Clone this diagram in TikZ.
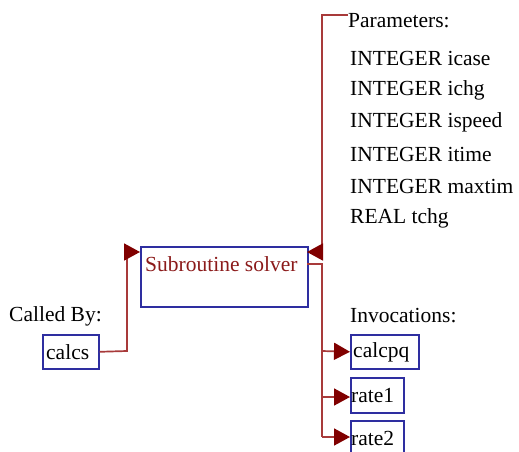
\documentclass[tikz,border=0pt]{standalone}
\usepackage{fontspec}
\setmainfont{Liberation Serif}
\usetikzlibrary{arrows.meta,calc}
\definecolor{boxblue}{HTML}{2E2EA0}
\definecolor{linered}{HTML}{A83A3A}
\definecolor{tipred}{HTML}{800000}
\definecolor{titlered}{HTML}{8B1A1A}
\tikzset{
  x=1pt, y=-1pt,
  txt/.style={font=\fontsize{21.5}{25}\selectfont, inner sep=0pt, anchor=west},
  fbox/.style={draw=boxblue, line width=1.6pt, inner sep=0pt, anchor=north west},
  conn/.style={draw=linered, line width=1.7pt},
  arr/.style={conn, -{Triangle[length=16pt,width=17pt,fill=tipred,color=tipred]}},
}
\begin{document}
\begin{tikzpicture}
\useasboundingbox (0,0) rectangle (519,452);
% boxes
\node[fbox, minimum width=167pt, minimum height=60pt] (solver) at (140,246) {};
\node[txt, text=titlered] (title) at (145,264) {Subroutine solver};
\node[fbox, minimum width=56pt, minimum height=34pt] (calcs) at (42,334) {};
\node[txt] at (46,352) {calcs};
\node[txt] (calledby) at (9,316) {Called By:};
% parameters
\node[txt] (params) at (348,21) {Parameters:};
\node[txt] at (350,58) {INTEGER icase};
\node[txt] at (350,90) {INTEGER ichg};
\node[txt] at (350,122) {INTEGER ispeed};
\node[txt] at (350,154) {INTEGER itime};
\node[txt] at (350,186) {INTEGER maxtim};
\node[txt] at (350,218) {REAL tchg};
% invocations
\node[txt] (invoc) at (350,316) {Invocations:};
\node[fbox, minimum width=68pt, minimum height=34pt] (calcpq) at (350,334) {};
\node[txt] at (353,352) {calcpq};
\node[fbox, minimum width=53pt, minimum height=35pt] (rate1) at (350,377) {};
\node[txt] at (351,396) {rate1};
\node[fbox, minimum width=53pt, minimum height=36pt] (rate2) at (350,420) {};
\node[txt] at (351,438) {rate2};
% coordinates
\coordinate (pin) at (322,15);
\coordinate (ptop) at (348,15);
\coordinate (sin) at (307,252);
\coordinate (lin) at (140,252);
\coordinate (sout) at (307,264);
\coordinate (bus) at (322,264);
% connectors
\draw[arr] (calcs.east) -- (127,351) |- (lin);
\draw[arr] (ptop) -- (pin) |- (sin);
\draw[conn] (sout) -- (bus) -- (322,437);
\draw[arr] (322,351) -- (calcpq.west);
\draw[arr] (322,397) -- (350,397);
\draw[arr] (322,437) -- (350,437);
\end{tikzpicture}
\end{document}
